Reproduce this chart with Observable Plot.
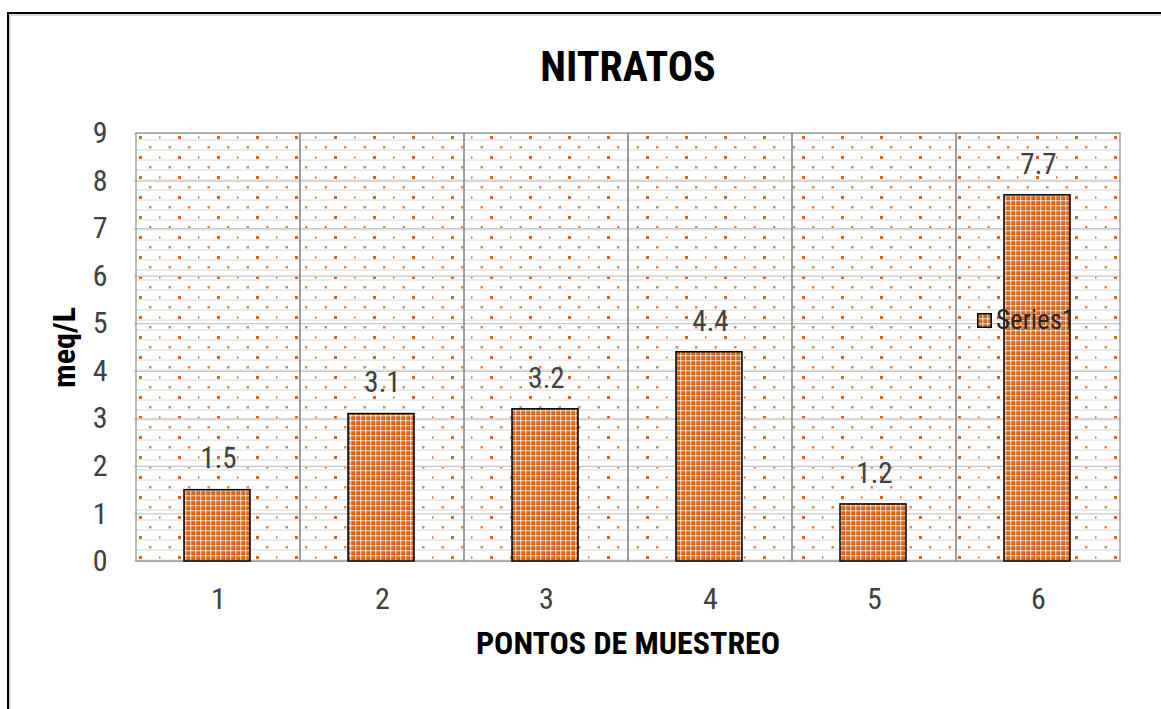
<!DOCTYPE html>
<html>
<head>
<meta charset="utf-8">
<script src="https://cdn.jsdelivr.net/npm/d3@7"></script>
<script src="https://cdn.jsdelivr.net/npm/@observablehq/plot@0.6"></script>
<style>
  html, body { margin: 0; padding: 0; background: #fff; width: 1161px; height: 709px; overflow: hidden; }
  #frame { position: absolute; left: 7px; top: 12px; width: 1200px; height: 760px;
           border-left: 2px solid #000; border-top: 2px solid #000;
           box-shadow: inset 2px 2px 0 #d9d9d9; }
  #chart { position: absolute; left: 0; top: 0; }
  #legend { position: absolute; left: 977px; top: 304px; display: flex; align-items: center;
            font-family: "Liberation Sans Narrow", "Roboto Condensed", "DejaVu Sans Condensed", sans-serif;
            font-size: 27px; color: #262626; }
  #legend svg { margin-right: 4px; }
</style>
</head>
<body>
<svg width="0" height="0" style="position:absolute">
  <defs>
    <pattern id="bgpat" patternUnits="userSpaceOnUse" x="134" y="133" width="39" height="20">
      <rect width="39" height="20" fill="#ffffff"/>
      <rect y="6" width="39" height="2" fill="#ececec"/>
      <rect y="16" width="39" height="2" fill="#ececec"/>
      <rect x="5" y="3" width="3" height="3" fill="#d2691e"/>
      <rect x="25" y="3.5" width="1.5" height="2" fill="#d2691e"/>
      <rect x="15" y="13" width="2.5" height="2.5" fill="#e08a4f"/>
      <rect x="34.5" y="13" width="2.5" height="2.5" fill="#e08a4f"/>
    </pattern>
    <pattern id="barpat" patternUnits="userSpaceOnUse" x="0" y="0" width="5" height="5">
      <rect width="5" height="5" fill="#cc5c0e"/>
      <rect x="0" y="0" width="1.4" height="5" fill="#ffffff" opacity="0.6"/>
      <rect x="0" y="0" width="5" height="1.4" fill="#ffffff" opacity="0.6"/>
      <rect x="2.6" y="2.6" width="1" height="1" fill="#ffffff" opacity="0.5"/>
    </pattern>
  </defs>
</svg>
<div id="frame"></div>
<div id="chart"></div>
<div id="legend"><svg width="15" height="15"><rect x="0.75" y="0.75" width="13.5" height="13.5" fill="url(#barpat)" stroke="#000" stroke-width="1.5"/></svg><span>Series1</span></div>
<script>
const categories = ["1", "2", "3", "4", "5", "6"];
const values = [1.5, 3.1, 3.2, 4.4, 1.2, 7.7];
const yTicks = [0, 1, 2, 3, 4, 5, 6, 7, 8, 9];
const title = "NITRATOS";
const xLabel = "PONTOS DE MUESTREO";
const yLabel = "meq/L";
const seriesName = "Series1";

const data = categories.map((c, i) => ({cat: c, value: values[i], label: String(values[i])}));
const font = `"Liberation Sans Narrow", "Roboto Condensed", "DejaVu Sans Condensed", sans-serif`;

const plot = Plot.plot({
  width: 1161,
  height: 709,
  marginTop: 133,
  marginBottom: 148,
  marginLeft: 134,
  marginRight: 40,
  style: {fontFamily: font, background: "transparent", overflow: "visible"},
  x: {type: "band", domain: categories, padding: 0},
  y: {domain: [0, 9]},
  marks: [
    Plot.barY(categories, {x: d => d, y1: 0, y2: 9, fill: "url(#bgpat)"}),
    Plot.ruleY(yTicks, {stroke: "#c8c8c8", strokeWidth: 1.2}),
    Plot.barY(categories, {x: d => d, y1: 0, y2: 9, fill: "none", stroke: "#8c8c8c", strokeWidth: 1.2}),
    Plot.barY(data, {x: "cat", y: "value", fill: "url(#barpat)", stroke: "#000", strokeWidth: 1.5, insetLeft: 48, insetRight: 50}),
    Plot.text(data, {x: "cat", y: "value", text: "label", dy: -31, fontSize: 29, fill: "#404040"}),
    Plot.axisY({ticks: yTicks, tickSize: 0, tickPadding: 27, fontSize: 30, label: null, color: "#404040"}),
    Plot.axisX({tickSize: 0, tickPadding: 26, fontSize: 30, label: null, color: "#404040"}),
    Plot.text([xLabel], {text: d => d, frameAnchor: "bottom", lineAnchor: "middle", dy: 82, fontSize: 32, fontWeight: "bold", fill: "#000"}),
    Plot.text([yLabel], {text: d => d, frameAnchor: "left", textAnchor: "middle", lineAnchor: "middle", rotate: -90, dx: -70, fontSize: 32, fontWeight: "bold", fill: "#000"}),
    Plot.text([title], {text: d => d, frameAnchor: "top", lineAnchor: "middle", dy: -66, fontSize: 42, fontWeight: "bold", fill: "#000"})
  ]
});
document.getElementById("chart").appendChild(plot);
document.querySelector("#legend span").textContent = seriesName;
</script>
</body>
</html>
